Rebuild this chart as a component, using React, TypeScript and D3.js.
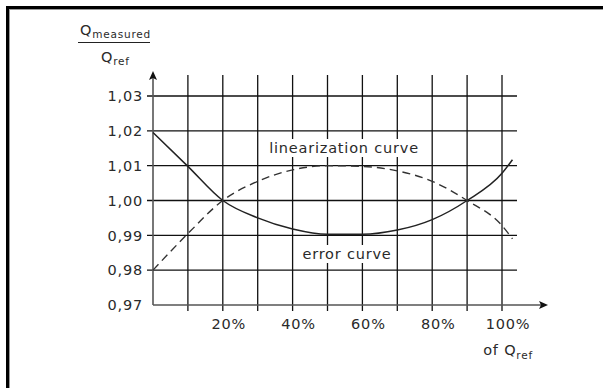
import React from "react";
import * as d3 from "d3";

const xValues = [0, 10, 20, 30, 40, 50, 60, 70, 80, 90, 100, 103];
const linearization = [1.0195, 1.0098, 1.0, 0.995, 0.9918, 0.9903, 0.9903, 0.9915, 0.9945, 1.0, 1.0078, 1.0117];
const errorCurve = [0.98, 0.9905, 1.0, 1.0055, 1.0088, 1.01, 1.0098, 1.0085, 1.0055, 1.0, 0.9928, 0.989];
const yTicks = [0.97, 0.98, 0.99, 1.0, 1.01, 1.02, 1.03];
const xGrid = [10, 20, 30, 40, 50, 60, 70, 80, 90, 100];
const xLabels = [20, 40, 60, 80, 100];

const W = 603;
const H = 388;
const FONT = "'DejaVu Sans', sans-serif";
const FS = 14.5;
const LS = 0.8;
const TXT = "#2a2a2a";

export default function App() {
  const x = d3.scaleLinear().domain([0, 100]).range([153, 502]);
  const y = d3.scaleLinear().domain([0.97, 1.03]).range([305, 96]);
  const line = d3
    .line<number>()
    .x((_, i) => x(xValues[i]))
    .y((d) => y(d))
    .curve(d3.curveMonotoneX);
  const fmt = (v: number) => v.toFixed(2).replace(".", ",");
  const x0 = x(0);
  const yBase = y(0.97);

  return (
    <svg width={W} height={H} style={{ position: "absolute", left: 0, top: 0, background: "#fff" }}>
      <rect x={0} y={0} width={W} height={H} fill="#fff" />
      {/* frame */}
      <line x1={7.5} y1={6} x2={7.5} y2={H} stroke="#000" strokeWidth={3} />
      <line x1={6} y1={7.5} x2={W} y2={7.5} stroke="#000" strokeWidth={3} />
      <line x1={9.5} y1={9} x2={9.5} y2={H} stroke="#999" strokeWidth={1} />
      <line x1={9} y1={9.5} x2={W} y2={9.5} stroke="#999" strokeWidth={1} />

      {/* horizontal grid */}
      {yTicks.slice(1).map((t) => (
        <line key={"h" + t} x1={x0 - 6} x2={517} y1={y(t)} y2={y(t)} stroke="#111" strokeWidth={1.3} />
      ))}
      {/* vertical grid */}
      {xGrid.map((t) => (
        <line key={"v" + t} x1={x(t)} x2={x(t)} y1={75} y2={yBase + 6} stroke="#111" strokeWidth={1.3} />
      ))}

      {/* label backgrounds */}
      <rect x={268} y={139} width={152} height={18} fill="#fff" />
      <rect x={298} y={245} width={98} height={18} fill="#fff" />

      {/* axes */}
      <line x1={x0} x2={545} y1={yBase} y2={yBase} stroke="#555" strokeWidth={1.6} />
      <path d={`M548,${yBase} L539,${yBase - 4} L541,${yBase} L539,${yBase + 4} Z`} fill="#111" />
      <line x1={x0} x2={x0} y1={yBase} y2={74} stroke="#555" strokeWidth={1.6} />
      <path d={`M${x0},71 L${x0 - 4},80 L${x0},78 L${x0 + 4},80 Z`} fill="#111" />

      {/* curves */}
      <path d={line(linearization) || ""} fill="none" stroke="#222" strokeWidth={1.5} />
      <path d={line(errorCurve) || ""} fill="none" stroke="#333" strokeWidth={1.4} strokeDasharray="8,5" />

      {/* y tick labels */}
      {yTicks.map((t) => (
        <text key={"yl" + t} x={143} y={y(t)} dy="0.36em" textAnchor="end" fontFamily={FONT} fontSize={FS} letterSpacing={LS} fill={TXT}>
          {fmt(t)}
        </text>
      ))}
      {/* x tick labels */}
      {xLabels.map((t) => (
        <text key={"xl" + t} x={x(t) + 6} y={329} textAnchor="middle" fontFamily={FONT} fontSize={FS} letterSpacing={LS} fill={TXT}>
          {t}%
        </text>
      ))}
      <text x={533} y={355} textAnchor="end" fontFamily={FONT} fontSize={FS} letterSpacing={LS} fill={TXT}>
        of Q<tspan fontSize={10.5} dy={4}>ref</tspan>
      </text>

      {/* curve labels */}
      <text x={344} y={153} textAnchor="middle" fontFamily={FONT} fontSize={FS} letterSpacing={LS} fill={TXT}>
        linearization curve
      </text>
      <text x={347} y={259} textAnchor="middle" fontFamily={FONT} fontSize={FS} letterSpacing={LS} fill={TXT}>
        error curve
      </text>

      {/* y axis title */}
      <text x={80} y={35} fontFamily={FONT} fontSize={FS} letterSpacing={LS} fill={TXT}>
        Q<tspan fontSize={10.5} dy={3}>measured</tspan>
      </text>
      <line x1={78} x2={150} y1={42.5} y2={42.5} stroke="#222" strokeWidth={1} />
      <text x={101} y={62} fontFamily={FONT} fontSize={FS} letterSpacing={LS} fill={TXT}>
        Q<tspan fontSize={10.5} dy={3}>ref</tspan>
      </text>
    </svg>
  );
}
